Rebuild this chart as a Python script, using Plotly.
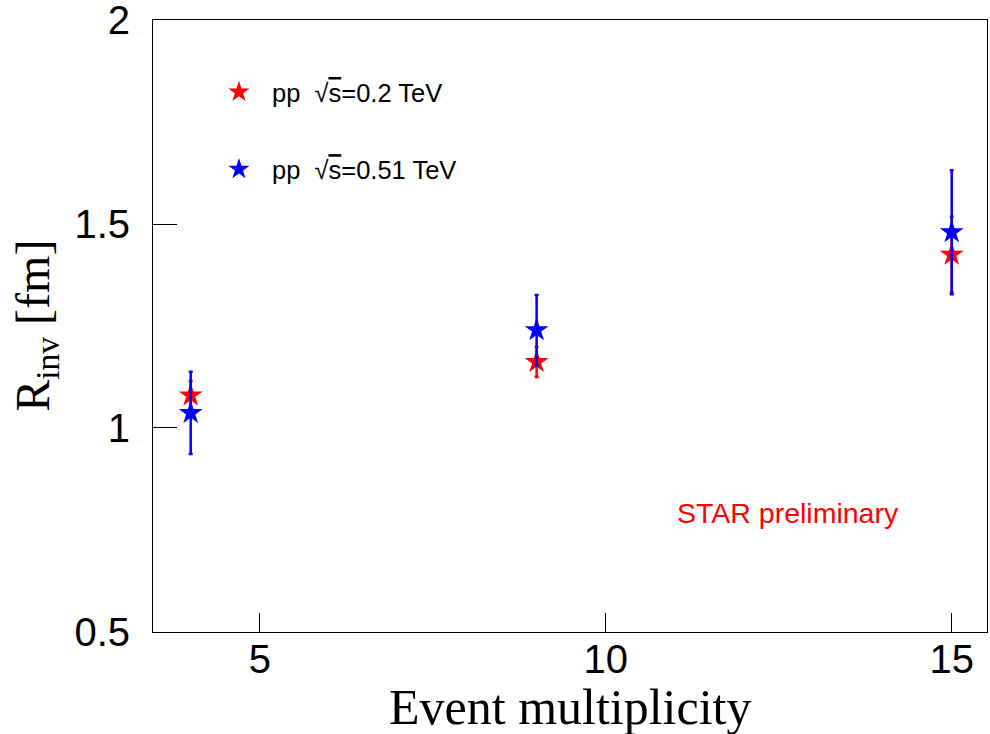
import plotly.graph_objects as go

# Event multiplicity bins
multiplicity = [4, 9, 15]

# Source radius R_inv [fm], pp at sqrt(s) = 0.2 TeV
r_inv_200 = [1.08, 1.162, 1.425]
r_err_200 = [0.035, 0.037, 0.093]

# Source radius R_inv [fm], pp at sqrt(s) = 0.51 TeV
r_inv_510 = [1.037, 1.240, 1.480]
r_err_510 = [0.101, 0.086, 0.152]

x_ticks = [5, 10, 15]
y_ticks = [0.5, 1, 1.5, 2]
y_tick_text = ["0.5", "1", "1.5", "2"]

SANS = "Liberation Sans, Arial, sans-serif"
SERIF = "Liberation Serif, Times New Roman, serif"

label_200 = "pp  \u221a<span style='text-decoration:overline'>s</span>=0.2 TeV"
label_510 = "pp  \u221a<span style='text-decoration:overline'>s</span>=0.51 TeV"

fig = go.Figure()

fig.add_trace(go.Scatter(
    x=multiplicity, y=r_inv_200, mode="markers", name=label_200,
    legendgroup="a",
    marker=dict(symbol="star", size=18, color="#ff0000", line=dict(width=0)),
    error_y=dict(type="data", array=r_err_200, color="#ff0000",
                 thickness=2.5, width=2),
))
fig.add_trace(go.Scatter(
    x=multiplicity, y=r_inv_510, mode="markers", name=label_510,
    legendgroup="b",
    marker=dict(symbol="star", size=18, color="#0000ff", line=dict(width=0)),
    error_y=dict(type="data", array=r_err_510, color="#0000ff",
                 thickness=2.5, width=2),
))

axis_common = dict(
    showline=True, linecolor="black", linewidth=1, mirror=True,
    showgrid=False, zeroline=False, ticks="inside", tickcolor="black",
    tickwidth=1, tickfont=dict(family=SANS, size=40, color="black"),
    ticklabeloverflow="allow", automargin=False,
)

fig.update_xaxes(range=[3.455, 15.51], tickvals=x_ticks, ticklen=19,
                 ticklabelstandoff=-8, **axis_common)
fig.update_yaxes(range=[0.4999, 2.0001], tickvals=y_ticks, ticktext=y_tick_text,
                 ticklen=24, ticklabelstandoff=14, **axis_common)

fig.add_annotation(text="Event multiplicity", xref="paper", yref="paper",
                   x=0.5, y=-0.1225, xanchor="center", yanchor="middle",
                   showarrow=False,
                   font=dict(family=SERIF, size=50, color="black"))
fig.add_annotation(text="R<sub>inv</sub> [fm]", xref="paper", yref="paper",
                   x=-0.1405, y=0.5, xanchor="center", yanchor="middle",
                   textangle=-90, showarrow=False,
                   font=dict(family=SERIF, size=48, color="black"))
fig.add_annotation(text="STAR preliminary", xref="paper", yref="paper",
                   x=0.7614, y=0.1944, xanchor="center", yanchor="middle",
                   showarrow=False,
                   font=dict(family=SANS, size=28.5, color="#ff0000"))

fig.update_layout(
    width=990, height=734,
    margin=dict(l=153, r=3, t=20, b=102, pad=0, autoexpand=False),
    paper_bgcolor="white", plot_bgcolor="white",
    showlegend=True,
    legend=dict(x=0.0635, y=0.92, xanchor="left", yanchor="top",
                bgcolor="rgba(0,0,0,0)", borderwidth=0,
                font=dict(family=SANS, size=25.5, color="black"),
                tracegroupgap=41, itemwidth=56, itemsizing="trace"),
)

fig.write_html("out.html")
